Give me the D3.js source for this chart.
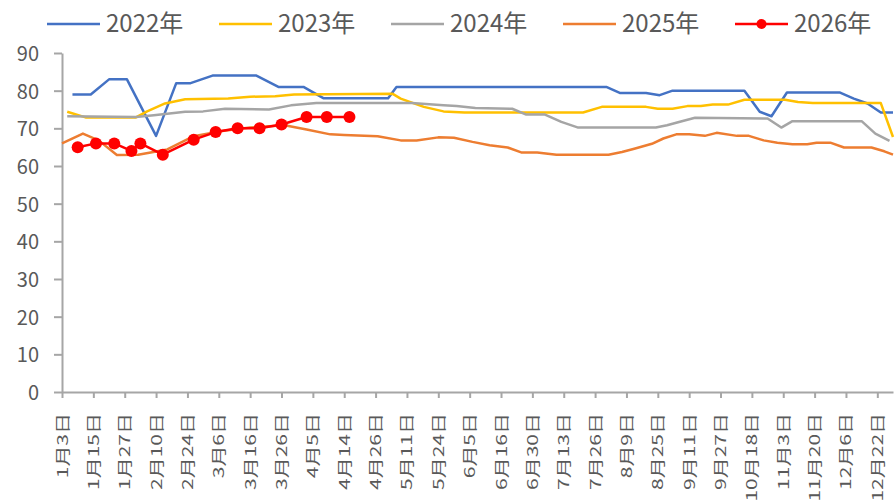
<!DOCTYPE html>
<html>
<head>
<meta charset="utf-8">
<script src="https://cdn.jsdelivr.net/npm/d3@7"></script>
<style>
    body { margin: 0; background: #fff; }
    text { font-family: "Noto Sans CJK SC", "Noto Sans", sans-serif; fill: #595959; }
</style>
</head>
<body>
<div id="chart-area"></div>
<script>
// tick labels on the x axis (one label every other point in the source sheet)
var tickLabels = ["1月3日", "1月15日", "1月27日", "2月10日", "2月24日", "3月6日", "3月16日",
    "3月26日", "4月5日", "4月14日", "4月26日", "5月11日", "5月24日", "6月5日", "6月16日",
    "6月30日", "7月13日", "7月26日", "8月9日", "8月25日", "9月11日", "9月27日", "10月18日",
    "11月3日", "11月20日", "12月6日", "12月22日"];
var axisEnd = "12月31日";
var yTicks = [0, 10, 20, 30, 40, 50, 60, 70, 80, 90];

var years  = ["2022年", "2023年", "2024年", "2025年", "2026年"];
var colors = ["#4472C4", "#FFC000", "#A5A5A5", "#ED7D31", "#FF0000"];

var dates2022  = ["1/7", "1/14", "1/21", "1/28", "2/10", "2/19", "2/25", "3/4", "3/18", "3/25", "4/2", "4/8",
    "5/2", "5/6", "7/31", "8/6", "8/19", "8/26", "9/2", "10/13", "10/22", "10/28", "11/5", "12/3",
    "12/10", "12/17", "12/24", "12/31"];
var values2022 = [79, 79, 83, 83, 68, 82, 82, 84, 84, 81, 81, 78,
    78, 81, 81, 79.4, 79.4, 78.8, 80, 80, 74.4, 73.2, 79.5, 79.5,
    77.9, 76.6, 74.2, 74.2];

var dates2023  = ["1/5", "1/12", "2/1", "2/6", "2/14", "2/23", "3/9", "3/16", "3/24", "3/30", "5/4", "5/8",
    "5/18", "5/26", "6/3", "7/21", "7/29", "8/19", "8/25", "9/2", "9/10", "9/17", "9/23", "10/2",
    "10/13", "11/4", "11/11", "11/19", "12/24", "12/31"];
var values2023 = [74.4, 72.9, 72.9, 74.5, 76.6, 77.7, 77.9, 78.4, 78.5, 79, 79.2, 77.9,
    75.7, 74.5, 74.2, 74.2, 75.7, 75.7, 75.2, 75.2, 75.9, 75.9, 76.3, 76.3,
    77.6, 77.6, 77, 76.7, 76.7, 67.7];

var dates2024  = ["1/5", "2/1", "2/9", "2/23", "3/1", "3/8", "3/22", "3/29", "4/6", "5/13", "5/26", "5/31",
    "6/7", "6/21", "6/27", "7/5", "7/12", "7/19", "8/24", "8/30", "9/7", "9/14", "10/26", "11/2",
    "11/8", "12/14", "12/21", "12/29"];
var values2024 = [73.2, 73, 73.5, 74.4, 74.5, 75.2, 75, 76.1, 76.7, 76.7, 76.1, 75.9,
    75.4, 75.2, 73.7, 73.7, 71.7, 70.2, 70.2, 70.8, 71.9, 72.8, 72.6, 70.2,
    71.9, 71.9, 68.6, 66.7];

var dates2025  = ["1/3", "1/11", "1/17", "1/24", "2/2", "2/15", "2/26", "3/7", "3/16", "3/27", "4/3", "4/10",
    "4/14", "4/27", "5/8", "5/15", "5/24", "5/30", "6/6", "6/12", "6/19", "6/25", "7/2", "7/10",
    "8/1", "8/7", "8/13", "8/22", "8/28", "9/4", "9/11", "9/19", "9/25", "10/8", "10/16", "10/24",
    "10/31", "11/8", "11/16", "11/21", "11/28", "12/5", "12/19", "12/26", "12/31"];
var values2025 = [66, 68.6, 66.8, 62.9, 63, 64.4, 67.9, 69.3, 70.2, 70.8, 69.7, 68.4,
    68.2, 67.9, 66.8, 66.8, 67.6, 67.5, 66.4, 65.5, 64.9, 63.6, 63.6, 63,
    63, 63.7, 64.6, 65.9, 67.3, 68.4, 68.4, 68, 68.8, 68, 68, 66.8,
    66.2, 65.8, 65.8, 66.2, 66.2, 64.9, 64.9, 63.9, 63];

var dates2026  = ["1/9", "1/16", "1/23", "1/30", "2/3", "2/13", "2/26", "3/5", "3/12", "3/19", "3/26", "4/3",
    "4/9", "4/16"];
var values2026 = [65, 66, 66, 64, 66, 63, 67, 69, 70, 70, 71, 73,
    73, 73];

var margin = { top: 53, bottom: 110, left: 62, right: 2 };
var width  = 895 - margin.left - margin.right;
var height = 502 - margin.top  - margin.bottom;

var parseLabel = d3.timeParse("%m月%d日");
var parseDate  = d3.timeParse("%m/%d");

var svg = d3.select("#chart-area")
    .append("svg")
        .attr("width", 895)
        .attr("height", 502);

var g = svg.append("g")
    .attr("transform", "translate(" + margin.left + ", " + margin.top + ")");

// labels sit evenly spaced, so the time axis is piecewise between them
var step = width / 26.5;
var x = d3.scaleTime()
    .domain(tickLabels.concat([axisEnd]).map(parseLabel))
    .range(tickLabels.map(function(d, i) { return i * step; }).concat([width]));

var y = d3.scaleLinear()
    .domain([0, 90])
    .range([height, 0]);

var axisColor = "#A6A6A6";

var xAxisCall = d3.axisBottom(x)
    .tickValues(tickLabels.map(parseLabel))
    .tickFormat(function(d, i) { return tickLabels[i]; })
    .tickSize(6)
    .tickSizeOuter(0);

var xAxis = g.append("g")
    .attr("class", "x-axis")
    .attr("transform", "translate(0, " + height + ")")
    .call(xAxisCall);

xAxis.selectAll("text")
    .attr("x", -21)
    .attr("y", 0)
    .attr("dy", "0.35em")
    .attr("text-anchor", "end")
    .attr("font-size", "21px")
    .attr("transform", "rotate(-90) scale(1, 0.68)");

var yAxisCall = d3.axisLeft(y)
    .tickValues(yTicks)
    .tickSize(8)
    .tickPadding(15)
    .tickSizeOuter(0);

var yAxis = g.append("g")
    .attr("class", "y-axis")
    .call(yAxisCall);

yAxis.selectAll("text")
    .attr("font-size", "20px")
    .attr("dy", "0.38em");

g.selectAll(".domain, .tick line")
    .attr("stroke", axisColor)
    .attr("stroke-width", 2);
g.selectAll(".tick text").attr("fill", "#595959").attr("font-family", null);

// series
var allDates  = [dates2022, dates2023, dates2024, dates2025, dates2026];
var allValues = [values2022, values2023, values2024, values2025, values2026];

var series = years.map(function(name, i) {
    return {
        name: name,
        color: colors[i],
        points: allDates[i].map(function(d, j) {
            return { date: parseDate(d), value: allValues[i][j] };
        })
    };
});

var line = d3.line()
    .x(function(d) { return x(d.date); })
    .y(function(d) { return y(d.value); });

g.selectAll(".series")
    .data(series)
    .enter()
    .append("path")
        .attr("class", "series")
        .attr("fill", "none")
        .attr("stroke", function(d) { return d.color; })
        .attr("stroke-width", 2.5)
        .attr("stroke-linejoin", "round")
        .attr("d", function(d) { return line(d.points); });

g.selectAll(".marker")
    .data(series[4].points)
    .enter()
    .append("circle")
        .attr("class", "marker")
        .attr("cx", function(d) { return x(d.date); })
        .attr("cy", function(d) { return y(d.value); })
        .attr("r", 6)
        .attr("fill", colors[4]);

// legend
var legend = svg.selectAll(".legend")
    .data(series)
    .enter()
    .append("g")
        .attr("class", "legend")
        .attr("transform", function(d, i) {
            return "translate(" + (47 + i * 172) + ", 24)";
        });

legend.append("line")
    .attr("x1", 0)
    .attr("x2", 53)
    .attr("stroke", function(d) { return d.color; })
    .attr("stroke-width", 2.5);

legend.filter(function(d, i) { return i === 4; })
    .append("circle")
        .attr("cx", 26.5)
        .attr("r", 5)
        .attr("fill", colors[4]);

legend.append("text")
    .attr("x", 59)
    .attr("y", 8)
    .attr("font-size", "24px")
    .text(function(d) { return d.name; });
</script>
</body>
</html>
